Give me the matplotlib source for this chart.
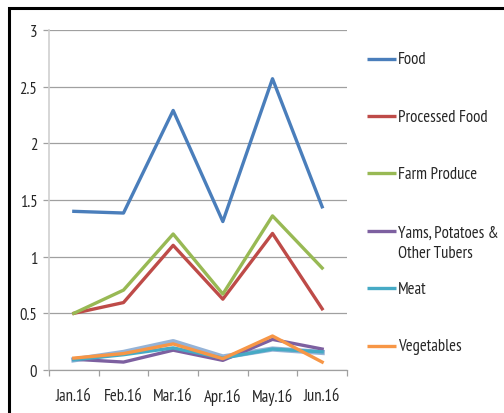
import matplotlib
matplotlib.use("Agg")
import matplotlib.pyplot as plt
from matplotlib.lines import Line2D
from matplotlib.patches import Rectangle

plt.rcParams['font.family'] = ['PT Sans Narrow', 'Carlito', 'DejaVu Sans']

months = ["Jan.16", "Feb.16", "Mar.16", "Apr.16", "May.16", "Jun.16"]

food = [1.40, 1.385, 2.29, 1.31, 2.57, 1.44]
processed_food = [0.50, 0.595, 1.10, 0.625, 1.205, 0.54]
farm_produce = [0.50, 0.705, 1.20, 0.67, 1.36, 0.90]
yams_tubers = [0.095, 0.07, 0.175, 0.085, 0.27, 0.185]
meat = [0.09, 0.135, 0.195, 0.105, 0.185, 0.16]
vegetables = [0.105, 0.145, 0.23, 0.10, 0.30, 0.07]
series7 = [0.09, 0.155, 0.25, 0.115, 0.185, 0.155]

labels = ["Food", "Processed Food", "Farm Produce",
          "Yams, Potatoes &\nOther Tubers", "Meat", "Vegetables"]
values = [food, processed_food, farm_produce, yams_tubers, meat, vegetables]
colors = ["#4A7EBB", "#BE4B48", "#98B954", "#7D60A0", "#46AAC5", "#F79646"]

W, H = 504, 414
FS = 12
TXT = "#262626"

fig = plt.figure(figsize=(W / 100, H / 100), dpi=100)
ax = fig.add_axes([49 / W, 1 - 371 / H, (347 - 49) / W, (371 - 31) / H])

x = list(range(len(months)))

# Background series (not listed in the legend)
ax.plot(x, series7, color="#95B3D7", lw=3.8, label="_nolegend_", zorder=3)
lines = []
for name, vals, col in zip(labels, values, colors):
    ln, = ax.plot(x, vals, color=col, lw=2.4, label=name, zorder=4)
    lines.append(ln)

ax.set_xlim(-0.5, len(months) - 0.5)
ax.set_ylim(0, 3)
ax.set_yticks([0, 0.5, 1, 1.5, 2, 2.5, 3])
ax.set_yticklabels(["0", "0.5", "1", "1.5", "2", "2.5", "3"])
ax.yaxis.grid(True, color="#A0A0A0", lw=0.9)
ax.set_axisbelow(True)

# Category boundaries as major ticks, labels at category centres
ax.set_xticks([i - 0.5 for i in range(len(months) + 1)])
ax.set_xticklabels([])
ax.set_xticks(x, minor=True)
ax.set_xticklabels(months, minor=True)
ax.tick_params(axis="x", which="major", length=4, color="#A0A0A0", width=0.9)
ax.tick_params(axis="x", which="minor", length=0, pad=13, labelsize=FS,
               labelcolor=TXT)
ax.tick_params(axis="y", length=4, color="#A0A0A0", width=0.9, pad=4.5,
               labelsize=FS, labelcolor=TXT)

for s in ("top", "right"):
    ax.spines[s].set_visible(False)
ax.spines["left"].set_color("#D0D0D0")
ax.spines["left"].set_linewidth(1.2)
ax.spines["bottom"].set_color("#A0A0A0")
ax.spines["bottom"].set_linewidth(0.9)

# Legend: evenly spaced rows, key line followed by its label
row0, step = 59.5, 57.4
for i, (ln, name) in enumerate(zip(lines, labels)):
    yc = row0 + i * step
    fig.add_artist(Line2D([367 / W, 396 / W], [1 - yc / H, 1 - yc / H],
                          transform=fig.transFigure, color=ln.get_color(),
                          lw=2.4, solid_capstyle="butt"))
    n_lines = name.count("\n") + 1
    ty = yc + (n_lines - 1) * 11 + 1
    fig.text(398 / W, 1 - ty / H, name, fontsize=FS, color=TXT,
             va="center", ha="left", linespacing=1.35)

# Outer chart frame
fig.add_artist(Rectangle((9 / W, -0.1), 1.2, 1.1 - 8.5 / H,
                         transform=fig.transFigure, fill=False,
                         edgecolor="black", lw=2.2, zorder=10))

fig.savefig("out.png", dpi=100)
